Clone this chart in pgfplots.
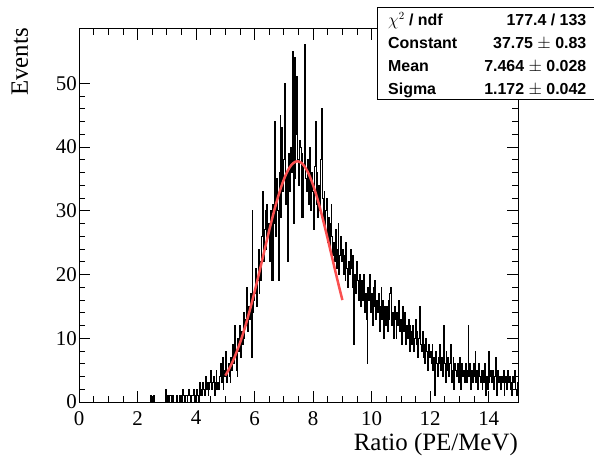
\documentclass[border=0pt]{standalone}
\usepackage{pgfplots}
\pgfplotsset{compat=1.18}
\usepackage{pgfplotstable}
\usepackage{fontspec}
\setmainfont{Liberation Serif}
\newfontfamily\statfont{Liberation Sans}
\definecolor{fitred}{RGB}{250,80,80}

\pgfplotstableread[row sep=\\]{
y\\
0\\0\\0\\0\\0\\0\\0\\0\\0\\0\\
0\\0\\0\\0\\0\\0\\0\\0\\0\\0\\
0\\0\\0\\0\\0\\0\\0\\0\\0\\0\\
0\\0\\0\\0\\0\\0\\0\\0\\0\\0\\
0\\0\\0\\0\\0\\0\\0\\0\\0\\0\\
0\\0\\0\\0\\0\\0\\0\\0\\0\\0\\
0\\0\\0\\0\\0\\0\\0\\0\\0\\0\\
0\\0\\0\\0\\0\\0\\0\\0\\0\\0\\
0\\1\\0\\0\\0\\1\\0\\0\\0\\0\\
0\\0\\0\\0\\0\\0\\0\\0\\0\\2\\
0\\1\\0\\1\\1\\0\\0\\1\\0\\0\\
0\\1\\0\\0\\1\\0\\1\\0\\2\\1\\
0\\1\\1\\0\\1\\2\\1\\0\\1\\1\\
2\\1\\0\\1\\2\\1\\0\\3\\1\\2\\
1\\3\\2\\1\\4\\2\\3\\1\\2\\3\\
5\\2\\3\\4\\1\\3\\5\\2\\3\\2\\
4\\6\\3\\7\\2\\5\\4\\8\\3\\5\\
6\\4\\3\\7\\5\\9\\6\\12\\8\\5\\
4\\10\\8\\12\\7\\11\\9\\14\\10\\13\\
12\\18\\11\\15\\13\\17\\7\\30\\14\\16\\
17\\21\\15\\19\\24\\17\\22\\19\\26\\33\\
22\\27\\30\\24\\31\\26\\28\\22\\30\\19\\
31\\19\\28\\44\\26\\35\\30\\19\\36\\45\\
29\\43\\33\\38\\50\\31\\36\\22\\34\\39\\
33\\40\\36\\55\\28\\54\\35\\42\\51\\38\\
34\\41\\40\\29\\39\\29\\37\\56\\35\\33\\
38\\31\\35\\40\\30\\36\\33\\27\\37\\44\\
31\\36\\29\\34\\30\\38\\46\\32\\28\\33\\
27\\30\\32\\25\\29\\24\\28\\31\\26\\23\\
25\\22\\27\\21\\24\\28\\20\\23\\26\\22\\
24\\20\\23\\19\\25\\21\\18\\22\\20\\24\\
21\\18\\23\\9\\20\\17\\22\\19\\16\\20\\
18\\15\\19\\16\\20\\14\\17\\13\\6\\18\\
16\\20\\14\\17\\12\\18\\15\\19\\13\\16\\
14\\17\\11\\15\\18\\13\\16\\10\\15\\12\\
15\\11\\16\\13\\17\\18\\12\\14\\10\\15\\
13\\10\\14\\12\\16\\11\\13\\9\\15\\12\\
11\\14\\9\\12\\10\\13\\8\\12\\11\\9\\
12\\8\\10\\13\\9\\11\\7\\10\\15\\9\\
8\\11\\7\\9\\6\\10\\8\\5\\9\\7\\
8\\6\\9\\5\\7\\1\\8\\6\\4\\7\\
6\\9\\5\\7\\4\\12\\6\\3\\8\\5\\
7\\4\\6\\9\\3\\5\\7\\2\\6\\5\\
4\\6\\3\\7\\5\\2\\6\\4\\5\\3\\
6\\3\\5\\12\\4\\6\\2\\5\\3\\6\\
4\\8\\3\\5\\2\\6\\4\\3\\5\\2\\
5\\3\\6\\1\\4\\2\\8\\3\\4\\5\\
3\\5\\2\\4\\7\\3\\1\\5\\3\\4\\
2\\4\\3\\5\\1\\3\\4\\2\\5\\3\\
4\\2\\3\\1\\4\\3\\5\\2\\1\\3\\
3\\
}\histdata

\begin{document}
\begin{tikzpicture}
\useasboundingbox (-79bp,-61bp) rectangle (515bp,402bp);
\begin{axis}[
  at={(0,0)}, anchor=south west,
  width=439bp, height=373bp, scale only axis,
  xmin=0, xmax=15, ymin=0, ymax=58.5,
  xtick={0,2,...,14}, minor x tick num=3,
  ytick={0,10,...,50}, minor y tick num=4,
  major tick length=11bp, minor tick length=6bp,
  tick style={line width=0.8bp, black},
  axis line style={line width=1bp},
  ticklabel style={font=\fontsize{21}{21}\selectfont},
  /pgf/number format/assume math mode=true,
  yticklabel style={inner xsep=2bp},
  xticklabel style={inner ysep=9bp},
]
\addplot[const plot, black, line width=0.9bp] table[x expr=\coordindex*0.03, y=y] {\histdata};
\addplot[fitred, line width=2.5bp, smooth] coordinates {
(5.0,4.141)(5.1,4.937)(5.2,5.843)(5.3,6.864)(5.4,8.008)(5.5,9.271)(5.6,10.657)(5.7,12.162)(5.8,13.778)(5.9,15.496)
(6.0,17.302)(6.1,19.178)(6.2,21.104)(6.3,23.054)(6.4,25.001)(6.5,26.916)(6.6,28.769)(6.7,30.525)(6.8,32.153)(6.9,33.622)
(7.0,34.904)(7.1,35.974)(7.2,36.803)(7.3,37.382)(7.4,37.694)(7.464,37.75)(7.5,37.731)(7.6,37.497)(7.7,36.992)(7.8,36.230)(7.9,35.226)
(8.0,34.001)(8.1,32.583)(8.2,30.994)(8.3,29.271)(8.4,27.442)(8.5,25.542)(8.6,23.599)(8.7,21.647)(8.8,19.714)(8.9,17.821)(9.0,15.993)
};
\end{axis}
\node[rotate=90, anchor=base east, font=\fontsize{25}{25}\selectfont, inner sep=0pt] at (-51bp,374bp) {Events};
\node[anchor=base east, font=\fontsize{25}{25}\selectfont, inner sep=0pt] at (439bp,-48bp) {Ratio (PE/MeV)};
% stats box
\fill[black] (300bp,301.5bp) rectangle (520bp,393.5bp);
\draw[fill=white, line width=0.9bp] (298.5bp,303bp) rectangle (518bp,395bp);
\begin{scope}[every node/.style={inner sep=0pt, font=\statfont\bfseries\fontsize{16}{16}\selectfont}]
\node[anchor=base west] at (309bp,376bp) {$\chi^{2}$ / ndf};
\node[anchor=base east] at (507.5bp,376bp) {177.4 / 133};
\node[anchor=base west] at (309bp,353bp) {Constant};
\node[anchor=base east] at (507.5bp,353bp) {37.75 $\pm$ 0.83};
\node[anchor=base west] at (309bp,330bp) {Mean};
\node[anchor=base east] at (507.5bp,330bp) {7.464 $\pm$ 0.028};
\node[anchor=base west] at (309bp,307.5bp) {Sigma};
\node[anchor=base east] at (507.5bp,307.5bp) {1.172 $\pm$ 0.042};
\end{scope}
\end{tikzpicture}
\end{document}
